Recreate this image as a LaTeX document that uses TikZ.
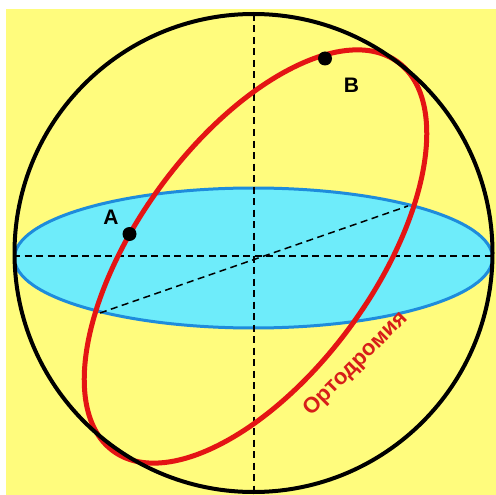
\documentclass[tikz,border=0pt]{standalone}
\usepackage{fontspec}
\setmainfont{Liberation Sans}
\definecolor{bgyellow}{RGB}{255,252,125}
\definecolor{planefill}{RGB}{110,236,250}
\definecolor{planeedge}{RGB}{30,140,220}
\definecolor{gcred}{RGB}{228,20,20}
\definecolor{txtred}{RGB}{215,30,25}
\begin{document}
\begin{tikzpicture}[x=1pt,y=-1pt,
  axis/.style={black,line width=1.5pt,dash pattern=on 7pt off 4.5pt},
  pointdot/.style={circle,fill=black,inner sep=0pt,minimum size=14pt},
  ptlabel/.style={font=\fontsize{21}{21}\selectfont\bfseries,text=black}]
\useasboundingbox (0,0) rectangle (496,495);
\fill[white] (0,0) rectangle (496,495);
\fill[bgyellow] (6,9) rectangle (496,495);
% equatorial plane
\filldraw[fill=planefill,draw=planeedge,line width=3pt] (253.5,258) ellipse [x radius=239pt, y radius=70pt];
% axes
\coordinate (ntop) at (254,14);
\coordinate (nbot) at (254,493);
\coordinate (eleft) at (13,256);
\coordinate (eright) at (493,256);
\coordinate (dleft) at (100,313);
\coordinate (dright) at (408,206);
\draw[axis] (ntop) -- (nbot);
\draw[axis] (eleft) -- (eright);
\draw[axis] (dleft) -- (dright);
% great circle (orthodrome)
\draw[gcred,line width=5pt,rotate around={53.8:(255.5,256.5)}] (255.5,256.5) ellipse [x radius=241pt, y radius=118pt];
% sphere outline
\draw[black,line width=4pt] (253.5,253) circle [radius=239pt];
% points
\node[pointdot] (A) at (129.5,234) {};
\node[pointdot] (B) at (325,58.5) {};
\node[ptlabel] (Alab) at (111,217) {A};
\node[ptlabel] (Blab) at (351.5,85) {B};
\node[text=txtred,font=\fontsize{22}{22}\selectfont\bfseries,rotate=45] (orth) at (356,364) {Ортодромия};
\end{tikzpicture}
\end{document}
